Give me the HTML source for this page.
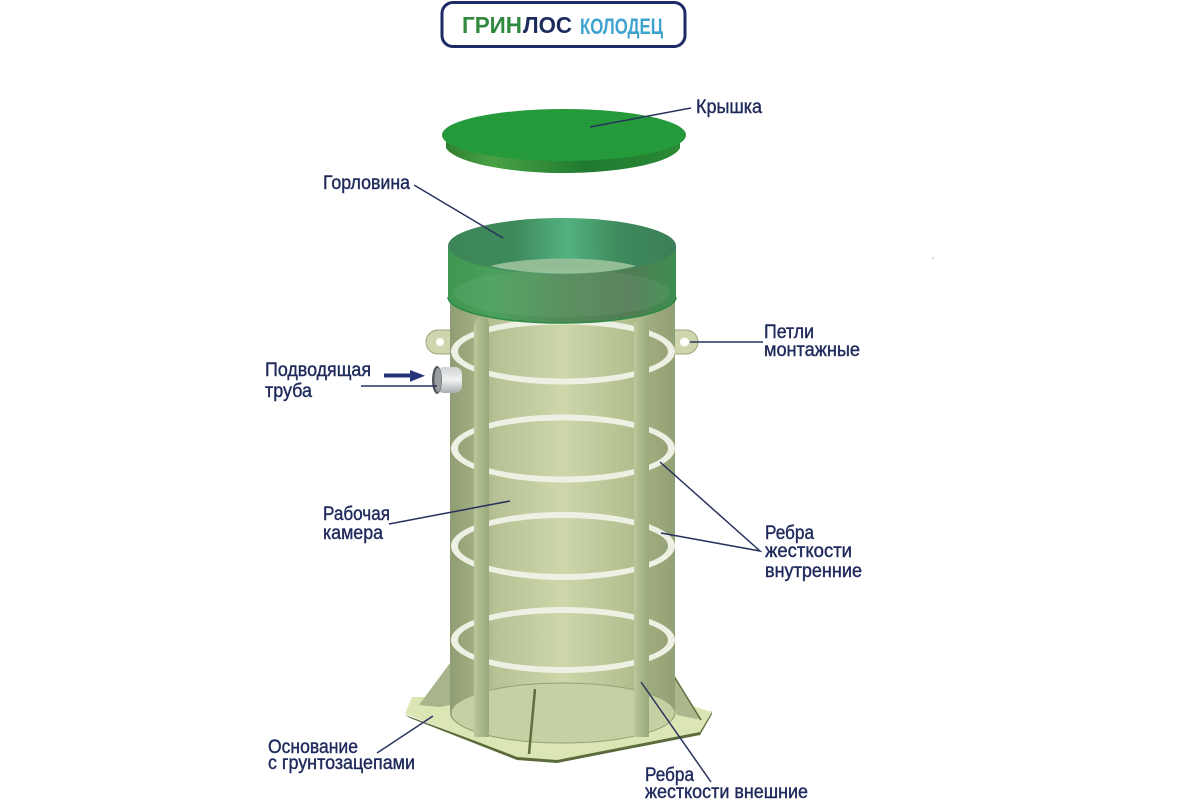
<!DOCTYPE html>
<html><head><meta charset="utf-8"><style>
html,body{margin:0;padding:0;background:#fff}
svg{display:block}
text{font-family:"Liberation Sans",sans-serif}
.l{font-size:19px;fill:#1f2a5c;stroke:#1f2a5c;stroke-width:.4}
.c{stroke:#28325e;stroke-width:1.5;fill:none}
</style></head><body>
<svg width="1200" height="800" viewBox="0 0 1200 800" xmlns="http://www.w3.org/2000/svg">
<defs>
<linearGradient id="body" x1="0" x2="1" y1="0" y2="0">
<stop offset="0" stop-color="#8f9d73"/><stop offset=".1" stop-color="#a0ad80"/><stop offset=".2" stop-color="#b6c194"/><stop offset=".5" stop-color="#cdd7aa"/><stop offset=".8" stop-color="#b3bf8f"/><stop offset=".9" stop-color="#9dab7c"/><stop offset="1" stop-color="#92a075"/>
</linearGradient>
<linearGradient id="rib" x1="0" x2="1" y1="0" y2="0">
<stop offset="0" stop-color="#bcc99c"/><stop offset=".35" stop-color="#adbb8d"/><stop offset="1" stop-color="#98a87a"/>
</linearGradient>
<linearGradient id="neckIn" x1="0" x2="1" y1="0" y2="0">
<stop offset="0" stop-color="#3d8658"/><stop offset=".3" stop-color="#3f8a5c"/><stop offset=".52" stop-color="#52b27e"/><stop offset=".75" stop-color="#3f8a5c"/><stop offset="1" stop-color="#3a7e58"/>
</linearGradient>
<linearGradient id="neckOut" x1="0" x2="1" y1="0" y2="0">
<stop offset="0" stop-color="#3f9650"/><stop offset=".2" stop-color="#4aa05c"/><stop offset=".5" stop-color="#528a58"/><stop offset=".8" stop-color="#527c54"/><stop offset="1" stop-color="#3d8e50"/>
</linearGradient>
<linearGradient id="rim" x1="0" x2="1" y1="0" y2="0">
<stop offset="0" stop-color="#2f7f30"/><stop offset=".2" stop-color="#49a144"/><stop offset=".6" stop-color="#1f7a30"/><stop offset="1" stop-color="#2a8a35"/>
</linearGradient>
<linearGradient id="pipe" x1="0" x2="0" y1="0" y2="1">
<stop offset="0" stop-color="#d0d2d4"/><stop offset=".5" stop-color="#f2f3f3"/><stop offset="1" stop-color="#a9acaf"/>
</linearGradient>
</defs>
<rect width="1200" height="800" fill="#fff"/>
<circle cx="933" cy="258" r=".7" fill="#999"/>

<!-- logo -->
<rect x="442" y="2.5" width="243" height="44" rx="11" fill="#fff" stroke="#1d2a66" stroke-width="3"/>
<text x="462" y="33" font-size="23" font-weight="bold" fill="#2f8a3f" textLength="60" lengthAdjust="spacingAndGlyphs">ГРИН</text>
<text x="523" y="33" font-size="23" font-weight="bold" fill="#1d2a5c" textLength="49" lengthAdjust="spacingAndGlyphs">ЛОС</text>
<text x="580" y="34" font-size="22" font-weight="bold" fill="#3fa3cf" textLength="83" lengthAdjust="spacingAndGlyphs">КОЛОДЕЦ</text>

<!-- lid -->
<path d="M446 142 L446 148 C455 163 510 173 563 173 C620 173 672 163 680 148 L680 142Z" fill="url(#rim)"/>
<ellipse cx="564" cy="135" rx="122" ry="26" fill="#259a3a"/>

<!-- base -->
<polygon points="405,715 410,718 517,760 557,763 700,735 712,714 712,711 700,730 557,759 517,756" fill="#5b6b3c"/>
<polygon points="412,697 405,714 517,757 557,760 700,732 712,712 673,700 450,690 430,697" fill="#dce5b4"/>
<polygon points="450,663 419,705 440,707 450,705" fill="#a8b58c"/>
<polygon points="672,673 702,720 677,715 672,700" fill="#aab88c"/>
<line x1="672" y1="673" x2="701" y2="720" stroke="#5f6f3e" stroke-width="1.5"/>

<!-- lugs -->
<path d="M452 330 H438 a12 12 0 0 0 0 24 H452Z" fill="#cfd6ae" stroke="#9aa67c"/>
<circle cx="440" cy="342" r="4" fill="#fff"/>
<path d="M672 330 H686 a12 12 0 0 1 0 24 H672Z" fill="#cfd6ae" stroke="#9aa67c"/>
<circle cx="684.5" cy="342" r="4.5" fill="#fff"/>

<!-- body -->
<path d="M450 280 H675 V713 A112 30 0 0 1 450 713Z" fill="url(#body)"/>
<ellipse cx="563" cy="713" rx="112" ry="30" fill="#c6d1a3" stroke="#93a176" stroke-width="1"/>

<!-- rings -->
<g fill="#eef0e4" fill-rule="evenodd">
<path d="M451 351.5a112 33 0 1 0 224 0a112 33 0 1 0-224 0ZM458 351.5a105 27 0 1 1 210 0a105 27 0 1 1-210 0Z"/>
<path d="M451 448.5a112 34 0 1 0 224 0a112 34 0 1 0-224 0ZM458 448.5a105 28 0 1 1 210 0a105 28 0 1 1-210 0Z"/>
<path d="M451 546a112 34 0 1 0 224 0a112 34 0 1 0-224 0ZM458 546a105 28 0 1 1 210 0a105 28 0 1 1-210 0Z"/>
<path d="M451 640a112 33 0 1 0 224 0a112 33 0 1 0-224 0ZM458 640a105 27 0 1 1 210 0a105 27 0 1 1-210 0Z"/>
</g>

<!-- ribs -->
<path d="M474 324 L477 318 H487 L489 324 V737 H474Z" fill="url(#rib)"/>
<path d="M634 324 L637 318 H647 L649 324 V737 H634Z" fill="url(#rib)"/>

<!-- floor fin -->
<line x1="535" y1="689" x2="529" y2="754" stroke="#5f6f3e" stroke-width="2.5"/>

<!-- neck -->
<path d="M448 246 V297 A114 26 0 0 0 676 297 V246Z" fill="url(#neckOut)"/>
<ellipse cx="562" cy="246" rx="114" ry="28" fill="url(#neckIn)"/>
<path d="M490 266 C530 256 600 256 636 266 C600 276 530 276 490 266Z" fill="#93bd95"/>
<path d="M453 293 C460 262 664 262 671 293 C664 325 460 325 453 293Z" fill="#fff" opacity=".06"/>
<path d="M448 297 A114 26 0 0 0 676 297" fill="none" stroke="#2f8a45" stroke-width="1.5"/>

<!-- pipe -->
<rect x="437" y="367" width="25" height="26" rx="7" fill="url(#pipe)"/>
<ellipse cx="437" cy="380" rx="5" ry="14" fill="#555a60"/>
<ellipse cx="438" cy="380" rx="3.5" ry="12" fill="#9a9ea2"/>

<!-- arrow -->
<line x1="384" y1="375.5" x2="412" y2="375.5" stroke="#26327a" stroke-width="4"/>
<polygon points="410,370 425,375.7 410,381.7" fill="#26327a"/>

<!-- connectors -->
<path class="c" d="M590 127 L691 108"/>
<path class="c" d="M414 185 L503 238"/>
<path class="c" d="M690 342 H763"/>
<path class="c" d="M361 386 H437"/>
<path class="c" d="M389 524 L510 501"/>
<path class="c" d="M660 462 L760 551 L661 533"/>
<path class="c" d="M641 682 L711 782"/>
<path class="c" d="M377 753 L433 716"/>

<!-- labels -->
<text class="l" x="696" y="113" textLength="66" lengthAdjust="spacingAndGlyphs">Крышка</text>
<text class="l" x="323" y="189" textLength="87" lengthAdjust="spacingAndGlyphs">Горловина</text>
<text class="l" x="764" y="338" textLength="50" lengthAdjust="spacingAndGlyphs">Петли</text>
<text class="l" x="764" y="356" textLength="96" lengthAdjust="spacingAndGlyphs">монтажные</text>
<text class="l" x="265" y="376" textLength="106" lengthAdjust="spacingAndGlyphs">Подводящая</text>
<text class="l" x="265" y="397" textLength="47" lengthAdjust="spacingAndGlyphs">труба</text>
<text class="l" x="323" y="520" textLength="67" lengthAdjust="spacingAndGlyphs">Рабочая</text>
<text class="l" x="323" y="539" textLength="60" lengthAdjust="spacingAndGlyphs">камера</text>
<text class="l" x="765" y="539" textLength="49" lengthAdjust="spacingAndGlyphs">Ребра</text>
<text class="l" x="765" y="557" textLength="87" lengthAdjust="spacingAndGlyphs">жесткости</text>
<text class="l" x="765" y="577" textLength="97" lengthAdjust="spacingAndGlyphs">внутренние</text>
<text class="l" x="268" y="753" textLength="90" lengthAdjust="spacingAndGlyphs">Основание</text>
<text class="l" x="268" y="769" textLength="147" lengthAdjust="spacingAndGlyphs">с грунтозацепами</text>
<text class="l" x="645" y="781" textLength="49" lengthAdjust="spacingAndGlyphs">Ребра</text>
<text class="l" x="645" y="798" textLength="163" lengthAdjust="spacingAndGlyphs">жесткости внешние</text>
</svg>
</body></html>
